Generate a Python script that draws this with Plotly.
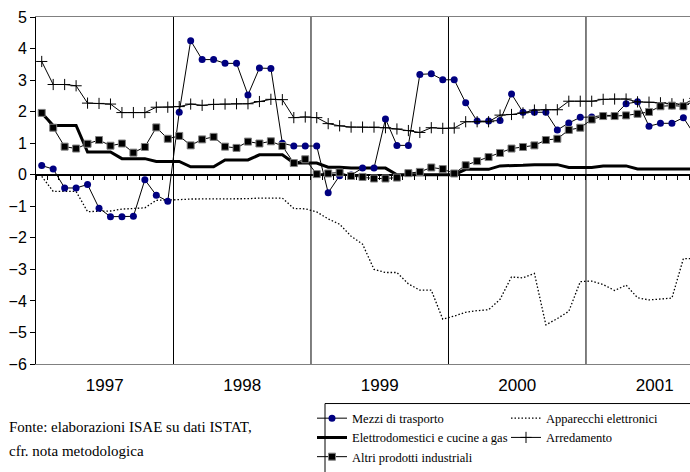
import plotly.graph_objects as go

# ---- data (monthly, Jan 1997 - Oct 2001) ----
years = ["1997", "1998", "1999", "2000", "2001"]

mezzi_trasporto = [
    0.29, 0.18, -0.42, -0.42, -0.31, -1.06, -1.33, -1.33, -1.32, -0.16, -0.65, -0.84,
    1.98, 4.25, 3.65, 3.65, 3.53, 3.53, 2.53, 3.38, 3.37, 1.00, 0.91, 0.91,
    0.91, -0.57, -0.03, -0.01, 0.21, 0.21, 1.77, 0.93, 0.93, 3.18, 3.20, 3.01,
    3.01, 2.28, 1.70, 1.70, 1.72, 2.56, 1.98, 1.98, 1.98, 1.42, 1.64, 1.82,
    1.83, 1.88, 1.88, 2.25, 2.31, 1.54, 1.63, 1.63, 1.81, 1.25,
]
apparecchi_elettronici = [
    -0.05, -0.53, -0.53, -0.53, -1.17, -1.17, -1.15, -1.09, -1.08, -1.05, -0.81, -0.81,
    -0.79, -0.77, -0.77, -0.77, -0.77, -0.77, -0.76, -0.74, -0.74, -0.74, -1.07, -1.08,
    -1.18, -1.40, -1.57, -1.95, -2.20, -3.00, -3.10, -3.10, -3.46, -3.66, -3.66, -4.58,
    -4.48, -4.36, -4.31, -4.28, -3.95, -3.24, -3.27, -3.13, -4.76, -4.56, -4.33, -3.39,
    -3.37, -3.48, -3.67, -3.50, -3.90, -3.97, -3.94, -3.91, -2.66, -2.66,
]
elettrodomestici = [
    1.96, 1.56, 1.56, 1.56, 0.72, 0.72, 0.72, 0.51, 0.51, 0.51, 0.42, 0.42,
    0.42, 0.25, 0.25, 0.25, 0.47, 0.47, 0.47, 0.63, 0.63, 0.63, 0.37, 0.37,
    0.37, 0.24, 0.24, 0.21, 0.21, 0.21, 0.21, 0.00, 0.00, 0.00, 0.00, 0.00,
    0.00, 0.17, 0.17, 0.17, 0.28, 0.28, 0.30, 0.32, 0.32, 0.32, 0.23, 0.23,
    0.23, 0.28, 0.28, 0.28, 0.18, 0.18, 0.18, 0.18, 0.18, 0.18,
]
arredamento = [
    3.59, 2.86, 2.86, 2.82, 2.27, 2.26, 2.24, 1.97, 1.97, 1.97, 2.14, 2.14,
    2.16, 2.24, 2.20, 2.23, 2.24, 2.25, 2.25, 2.32, 2.39, 2.38, 1.81, 1.83,
    1.81, 1.62, 1.55, 1.51, 1.51, 1.51, 1.49, 1.45, 1.40, 1.34, 1.49, 1.47,
    1.48, 1.68, 1.68, 1.68, 1.89, 1.91, 1.96, 2.05, 2.06, 2.06, 2.33, 2.33,
    2.33, 2.39, 2.40, 2.40, 2.31, 2.30, 2.28, 2.25, 2.23, 2.42,
]
altri_prodotti = [
    1.96, 1.49, 0.89, 0.83, 0.98, 1.10, 0.92, 0.99, 0.70, 0.88, 1.50, 1.14,
    1.23, 0.93, 1.12, 1.20, 0.89, 0.85, 1.05, 0.99, 1.06, 0.91, 0.37, 0.49,
    0.02, 0.04, 0.07, -0.04, -0.07, -0.12, -0.12, -0.09, 0.05, 0.09, 0.23, 0.18,
    0.04, 0.30, 0.43, 0.56, 0.69, 0.83, 0.88, 0.93, 1.10, 1.14, 1.42, 1.49,
    1.75, 1.86, 1.86, 1.88, 1.93, 1.99, 2.17, 2.19, 2.17, 2.35,
]
source_lines = ["Fonte: elaborazioni ISAE su dati ISTAT,", "cfr. nota metodologica"]

# ---- geometry ----
W, H = 690, 472
ML, MR, MT, MB = 36, 0, 17, 104
month_px = 11.458
x_max = (W - ML - MR) / month_px
x = [i + 0.5 for i in range(len(mezzi_trasporto))]
year_centers = [12 * i + 6 for i in range(len(years))]
year_bounds = [12 * i for i in range(1, len(years))]
plot_h = H - MT - MB


def px_x(p):
    return (p - ML) / (W - ML - MR)


def px_y(p):
    return (H - MB - p) / plot_h


serif = "Liberation Serif, Times New Roman, serif"
sans = "Liberation Sans, Arial, sans-serif"

fig = go.Figure()

fig.add_trace(go.Scatter(
    x=x, y=apparecchi_elettronici, name="Apparecchi elettronici", mode="lines",
    line=dict(color="black", width=1.3, dash="1.5px,2px"), legend="legend2", legendrank=1))
fig.add_trace(go.Scatter(
    x=x, y=elettrodomestici, name="Elettrodomestici e cucine a gas", mode="lines",
    line=dict(color="black", width=3), legend="legend", legendrank=2))
fig.add_trace(go.Scatter(
    x=x, y=mezzi_trasporto, name="Mezzi di trasporto", mode="lines+markers",
    line=dict(color="black", width=1),
    marker=dict(symbol="circle", size=7, color="#000080"), legend="legend", legendrank=1))
fig.add_trace(go.Scatter(
    x=x, y=arredamento, name="Arredamento", mode="lines+markers",
    line=dict(color="black", width=1),
    marker=dict(symbol="cross-thin", size=8, color="black", line=dict(color="black", width=1)),
    legend="legend2", legendrank=2))
fig.add_trace(go.Scatter(
    x=x, y=altri_prodotti, name="Altri prodotti industriali", mode="lines+markers",
    line=dict(color="black", width=1),
    marker=dict(symbol="square", size=7, color="black", line=dict(color="#808080", width=1)),
    legend="legend", legendrank=3))
# carrier for the month-tick axis drawn on the zero line
fig.add_trace(go.Scatter(x=[x[0]], y=[None], xaxis="x2", showlegend=False, hoverinfo="skip"))

shapes = []
for b in year_bounds:
    shapes.append(dict(type="line", xref="x", yref="paper", x0=b, x1=b, y0=0, y1=1,
                       line=dict(color="black", width=1), layer="above"))
shapes.append(dict(type="rect", xref="paper", yref="paper",
                   x0=px_x(325), x1=px_x(W + 20), y0=px_y(408), y1=px_y(H + 20),
                   line=dict(color="black", width=1), fillcolor="rgba(0,0,0,0)"))

annotations = []
for i, t in enumerate(source_lines):
    annotations.append(dict(text=t, xref="paper", yref="paper", x=px_x(7), y=px_y(432 + 24 * i),
                            xanchor="left", yanchor="middle", showarrow=False,
                            font=dict(family=serif, size=15, color="black")))

fig.update_layout(
    width=W, height=H,
    margin=dict(l=ML, r=MR, t=MT, b=MB),
    paper_bgcolor="white", plot_bgcolor="white",
    showlegend=True,
    xaxis=dict(range=[0, x_max], tickmode="array", tickvals=year_centers, ticktext=years,
               ticks="outside", ticklen=6, tickcolor="rgba(0,0,0,0)", automargin=False,
               showline=True, mirror=True, linecolor="#808080", linewidth=1,
               showgrid=False, zeroline=False,
               tickfont=dict(family=sans, size=17, color="black")),
    xaxis2=dict(range=[0, x_max], overlaying="x", anchor="free", position=6 / 11,
                tickmode="linear", tick0=0, dtick=1, ticks="outside", ticklen=4, automargin=False,
                tickcolor="black", showticklabels=False, showgrid=False,
                zeroline=False, showline=False),
    yaxis=dict(range=[-6, 5], tickmode="linear", tick0=0, dtick=1, automargin=False,
               ticks="outside", ticklen=5, tickcolor="black",
               showline=True, linecolor="black", linewidth=1,
               showgrid=False, zeroline=True, zerolinecolor="black", zerolinewidth=1.5,
               tickfont=dict(family=sans, size=16, color="black")),
    legend=dict(x=px_x(312), y=px_y(408), xanchor="left", yanchor="top",
                orientation="v", bgcolor="rgba(0,0,0,0)", borderwidth=0,
                font=dict(family=serif, size=12.5, color="black"), tracegroupgap=0),
    legend2=dict(x=px_x(506), y=px_y(408), xanchor="left", yanchor="top",
                 orientation="v", bgcolor="rgba(0,0,0,0)", borderwidth=0,
                 font=dict(family=serif, size=12.5, color="black"), tracegroupgap=0),
    shapes=shapes,
    annotations=annotations,
)

fig.write_html("out.html", config={"displayModeBar": False},
               post_script="document.body.style.margin='0';document.body.style.padding='0';")
